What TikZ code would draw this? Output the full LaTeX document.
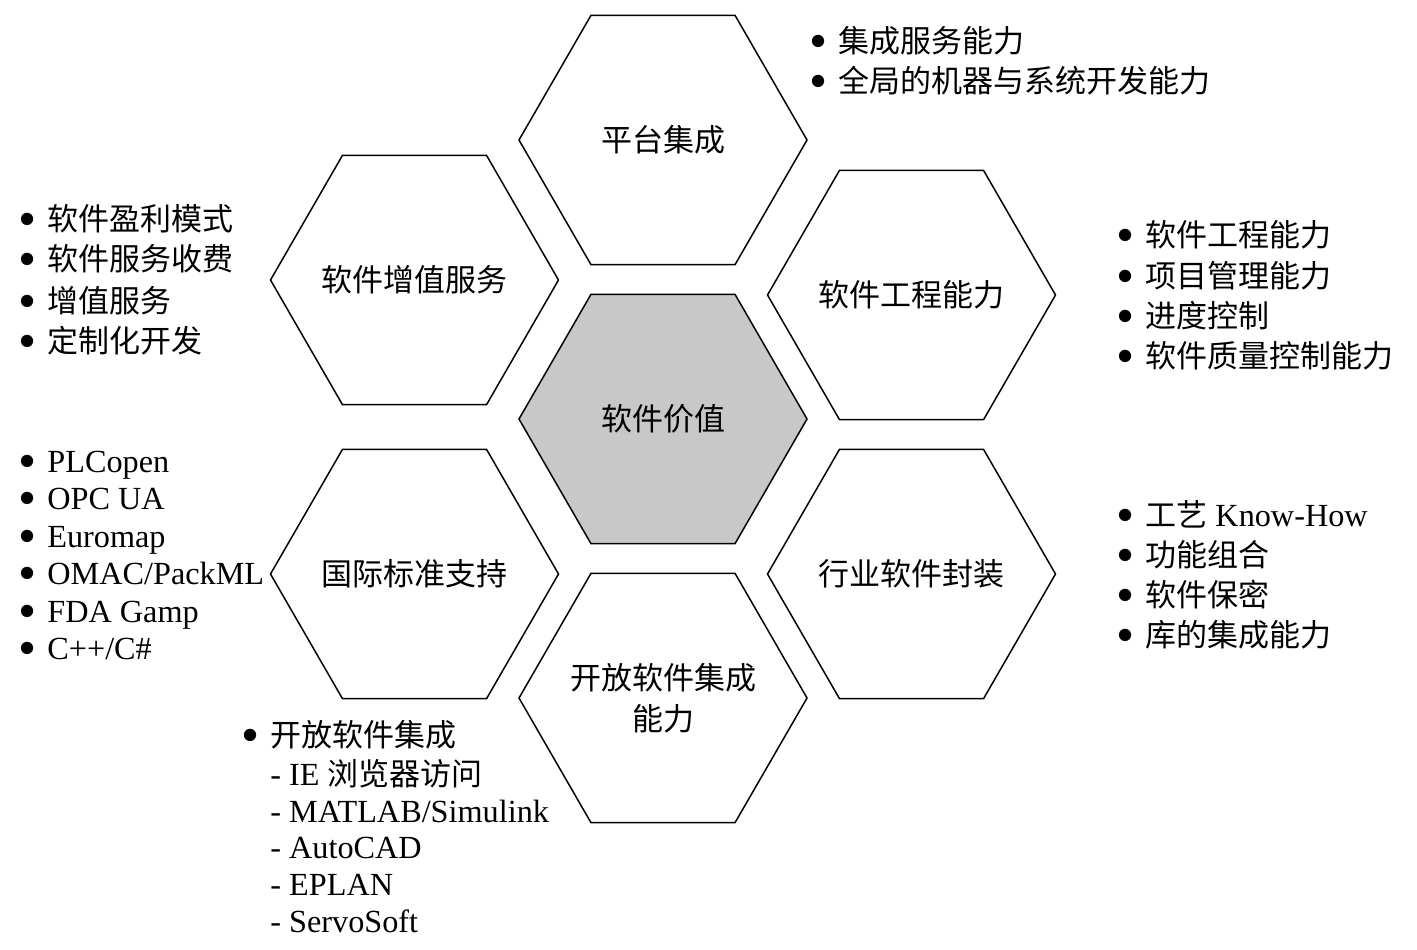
\documentclass[tikz,border=0pt]{standalone}
\usepackage{fontspec}
\usepackage{graphicx}
\setmainfont{Liberation Serif}[Scale=1.04]
\newfontfamily\cjk{Noto Sans CJK SC}
\usetikzlibrary{shapes.geometric}
\definecolor{hexgray}{RGB}{200,200,200}
\newcommand\bul{\llap{\smash{\raisebox{-3pt}{\scalebox{1.6}{\textbullet}}}\hspace{5.5pt}}}
\newcommand\zc[1]{\makebox[0pt]{#1}}
\begin{document}
\begin{tikzpicture}[x=0.5pt,y=-0.5pt,
  font=\fontsize{15.5pt}{20.5pt}\selectfont,
  hexa/.style={regular polygon, regular polygon sides=6, minimum size=144pt,
    draw=black, line width=0.75pt, inner sep=0pt, align=center,
    font={\fontsize{15.5pt}{20.5pt}\selectfont\cjk}},
  item/.style={anchor=base west, inner sep=0pt}]
\useasboundingbox (0,0) rectangle (1417,949);

% hexagons
\node[hexa, fill=hexgray] (center) at (663,419) {\zc{软件价值}};
\node[hexa] (top) at (663,140) {\zc{平台集成}};
\node[hexa] (ul) at (414.5,280) {\zc{软件增值服务}};
\node[hexa] (ur) at (911.5,295) {\zc{软件工程能力}};
\node[hexa] (ll) at (414.5,574) {\zc{国际标准支持}};
\node[hexa] (lr) at (911.5,574) {\zc{行业软件封装}};
\node[hexa] (bot) at (663,698) {\zc{开放软件集成}\\\zc{能力}};

% top right list
\node[item] (tr1) at (838,52) {\bul{\cjk 集成服务能力}};
\node[item] (tr2) at (838,92) {\bul{\cjk 全局的机器与系统开发能力}};

% left top list
\node[item] (lt1) at (47,230) {\bul{\cjk 软件盈利模式}};
\node[item] (lt2) at (47,270) {\bul{\cjk 软件服务收费}};
\node[item] (lt3) at (47,312) {\bul{\cjk 增值服务}};
\node[item] (lt4) at (47,352) {\bul{\cjk 定制化开发}};

% left lower list
\node[item] (lb1) at (47,472) {\bul PLCopen};
\node[item] (lb2) at (47,509) {\bul OPC UA};
\node[item] (lb3) at (47,547) {\bul Euromap};
\node[item] (lb4) at (47,584) {\bul OMAC/PackML};
\node[item] (lb5) at (47,622) {\bul FDA Gamp};
\node[item] (lb6) at (47,659) {\bul C++/C\#};

% bottom list
\node[item] (bl1) at (270,746) {\bul{\cjk 开放软件集成}};
\node[item] (bl2) at (270,785) {- IE {\cjk 浏览器访问}};
\node[item] (bl3) at (270,822) {- MATLAB/Simulink};
\node[item] (bl4) at (270,858) {- AutoCAD};
\node[item] (bl5) at (270,895) {- EPLAN};
\node[item] (bl6) at (270,932) {- ServoSoft};

% right upper list
\node[item] (ru1) at (1145,246) {\bul{\cjk 软件工程能力}};
\node[item] (ru2) at (1145,287) {\bul{\cjk 项目管理能力}};
\node[item] (ru3) at (1145,327) {\bul{\cjk 进度控制}};
\node[item] (ru4) at (1145,367) {\bul{\cjk 软件质量控制能力}};

% right lower list
\node[item] (rl1) at (1145,526) {\bul{\cjk 工艺} Know-How};
\node[item] (rl2) at (1145,566) {\bul{\cjk 功能组合}};
\node[item] (rl3) at (1145,606) {\bul{\cjk 软件保密}};
\node[item] (rl4) at (1145,646) {\bul{\cjk 库的集成能力}};
\end{tikzpicture}
\end{document}
